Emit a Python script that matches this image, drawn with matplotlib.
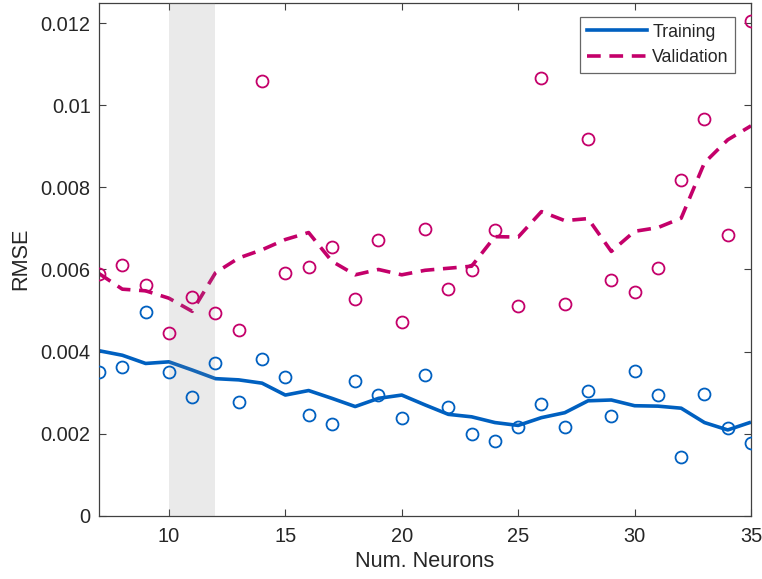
import matplotlib
matplotlib.use("Agg")
import matplotlib.pyplot as plt
from matplotlib.lines import Line2D

plt.rcParams['font.family'] = ['Liberation Sans', 'DejaVu Sans']

neurons = list(range(7, 36))

train_pts = [0.00349, 0.00363, 0.00496, 0.00350, 0.00290, 0.00372, 0.00277, 0.00383,
             0.00338, 0.00246, 0.00224, 0.00329, 0.00294, 0.00238, 0.00343, 0.00264,
             0.00200, 0.00182, 0.00215, 0.00273, 0.00217, 0.00303, 0.00244, 0.00353,
             0.00295, 0.00143, 0.00296, 0.00213, 0.00177]
train_line = [0.00402, 0.00391, 0.00371, 0.00375, 0.00355, 0.00334, 0.00331, 0.00323,
              0.00294, 0.00305, 0.00286, 0.00266, 0.00286, 0.00294, 0.00270, 0.00247,
              0.00241, 0.00227, 0.00220, 0.00239, 0.00251, 0.00280, 0.00282, 0.00268,
              0.00267, 0.00262, 0.00227, 0.00209, 0.00228]

val_pts = [0.00590, 0.00611, 0.00561, 0.00446, 0.00534, 0.00495, 0.00453, 0.01060,
           0.00591, 0.00605, 0.00655, 0.00529, 0.00672, 0.00472, 0.00699, 0.00553,
           0.00598, 0.00697, 0.00510, 0.01066, 0.00516, 0.00918, 0.00575, 0.00545,
           0.00603, 0.00819, 0.00967, 0.00685, 0.01206]
val_line = [0.00590, 0.00552, 0.00548, 0.00530, 0.00498, 0.00592, 0.00628, 0.00648,
            0.00673, 0.00690, 0.00620, 0.00587, 0.00600, 0.00587, 0.00598, 0.00603,
            0.00608, 0.00680, 0.00679, 0.00741, 0.00719, 0.00724, 0.00644, 0.00693,
            0.00702, 0.00725, 0.00860, 0.00916, 0.00950]

shade_range = (10, 12)
xticks = [10, 15, 20, 25, 30, 35]
yticks = [0, 0.002, 0.004, 0.006, 0.008, 0.01, 0.012]
ytick_labels = ['0', '0.002', '0.004', '0.006', '0.008', '0.01', '0.012']

blue = '#0060C0'
mag = '#C4006A'
axcol = '#404040'

fig = plt.figure(figsize=(7.62, 5.79), dpi=100)
ax = fig.add_axes([0.130, 0.1093, 0.8556, 0.886])

ax.plot(neurons, train_line, color=blue, lw=2.6, zorder=2, solid_capstyle='butt')
ax.plot(neurons, val_line, color=mag, lw=2.6, zorder=2, dashes=(3.8, 2.4))
ax.axvspan(shade_range[0], shade_range[1], facecolor='#888888', alpha=0.17,
           edgecolor='none', zorder=3)
ax.plot(neurons, train_pts, linestyle='none', marker='o', ms=8.6, mfc='none',
        mec=blue, mew=1.3, zorder=4)
ax.plot(neurons, val_pts, linestyle='none', marker='o', ms=8.6, mfc='none',
        mec=mag, mew=1.3, zorder=4)

ax.set_xlim(7, 35)
ax.set_ylim(0, 0.0125)
ax.set_xticks(xticks)
ax.set_xticklabels([str(t) for t in xticks])
ax.set_yticks(yticks)
ax.set_yticklabels(ytick_labels)
ax.tick_params(axis='both', direction='in', length=5, width=0.8, color=axcol,
               labelsize=14.4, labelcolor='#262626', top=True, right=True)
ax.tick_params(axis='x', pad=8)
ax.tick_params(axis='y', pad=6)
for s in ax.spines.values():
    s.set_color(axcol)
    s.set_linewidth(0.9)

ax.set_xlabel('Num. Neurons', fontsize=15.6, color='#262626', labelpad=4)
ax.set_ylabel('RMSE', fontsize=15.6, color='#262626', labelpad=7)

handles = [Line2D([], [], color=blue, lw=2.6),
           Line2D([], [], color=mag, lw=2.6, dashes=(3.8, 2.4))]
leg = ax.legend(handles, ['Training', 'Validation'], loc='upper right',
                bbox_to_anchor=(0.9755, 0.9715), fontsize=12.8, frameon=True,
                fancybox=False, handlelength=3.4, handletextpad=0.3,
                borderpad=0.35, labelspacing=0.5, borderaxespad=0.0)
leg.get_frame().set_edgecolor('#404040')
leg.get_frame().set_linewidth(0.9)
for t in leg.get_texts():
    t.set_color('#262626')

fig.savefig('out.png', dpi=100)
